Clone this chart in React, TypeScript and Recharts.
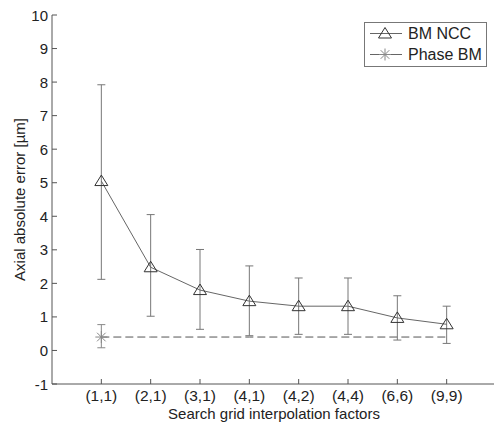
import React from 'react';
import { ComposedChart, Line, XAxis, YAxis, ErrorBar, Legend } from 'recharts';

const categories = ['(1,1)', '(2,1)', '(3,1)', '(4,1)', '(4,2)', '(4,4)', '(6,6)', '(9,9)'];
const nccMean = [5.05, 2.48, 1.8, 1.47, 1.32, 1.32, 0.97, 0.78];
const nccLow = [2.12, 1.02, 0.63, 0.44, 0.48, 0.48, 0.31, 0.21];
const nccHigh = [7.92, 4.05, 3.01, 2.52, 2.16, 2.16, 1.63, 1.32];
const phaseMean = [0.4, 0.4, 0.4, 0.4, 0.4, 0.4, 0.4, 0.4];
const phaseLow = [0.08];
const phaseHigh = [0.77];
const yTicks = [-1, 0, 1, 2, 3, 4, 5, 6, 7, 8, 9, 10];
const xTicks = [1, 2, 3, 4, 5, 6, 7, 8];

const data = categories.map((c, i) => ({
  x: i + 1,
  ncc: nccMean[i],
  nccErr: [nccMean[i] - nccLow[i], nccHigh[i] - nccMean[i]],
  phase: phaseMean[i],
  phaseErr: i < phaseLow.length ? [phaseMean[i] - phaseLow[i], phaseHigh[i] - phaseMean[i]] : undefined,
}));

const FONT = '"Liberation Sans", Arial, sans-serif';
const AXIS = '#555';
const TEXT = '#222';

const Triangle = ({ cx, cy, color = '#333' }: any) => (
  <polygon
    points={`${cx},${cy - 6} ${cx - 6.5},${cy + 4.5} ${cx + 6.5},${cy + 4.5}`}
    fill="none"
    stroke={color}
    strokeWidth={1}
  />
);

const Asterisk = ({ cx, cy, color = '#888' }: any) => (
  <g stroke={color} strokeWidth={1}>
    <line x1={cx - 6} y1={cy} x2={cx + 6} y2={cy} />
    <line x1={cx} y1={cy - 6} x2={cx} y2={cy + 6} />
    <line x1={cx - 4.3} y1={cy - 4.3} x2={cx + 4.3} y2={cy + 4.3} />
    <line x1={cx - 4.3} y1={cy + 4.3} x2={cx + 4.3} y2={cy - 4.3} />
  </g>
);

const LeftTick = (props: any) => {
  const { x, y, payload } = props;
  return (
    <g>
      <line x1={x + 4} y1={y} x2={x + 9} y2={y} stroke={AXIS} />
      <text x={x} y={y} textAnchor="end" dominantBaseline="central" fontFamily={FONT} fontSize={15} fill={TEXT}>
        {payload.value}
      </text>
    </g>
  );
};

const RightTick = (props: any) => {
  const { x, y } = props;
  return <line x1={x - 5} y1={y} x2={x} y2={y} stroke={AXIS} />;
};

const BottomTick = (props: any) => {
  const { x, y, payload } = props;
  return (
    <g>
      <line x1={x} y1={y - 6} x2={x} y2={y - 11} stroke={AXIS} />
      <text x={x} y={y} dy="0.72em" textAnchor="middle" fontFamily={FONT} fontSize={15.5} fill={TEXT}>
        {categories[payload.value - 1]}
      </text>
    </g>
  );
};

const TopTick = (props: any) => {
  const { x, y } = props;
  return <line x1={x} y1={y} x2={x} y2={y + 5} stroke={AXIS} />;
};

const LegendBox = () => (
  <svg width={124} height={46} style={{ display: 'block' }}>
    <rect x={0.5} y={0.5} width={122} height={44} fill="#fff" stroke="#777" />
    <line x1={6} y1={11.5} x2={38} y2={11.5} stroke="#666" />
    <Triangle cx={21} cy={11.5} />
    <text x={44} y={11.5} dominantBaseline="central" fontFamily={FONT} fontSize={16} fill={TEXT}>BM NCC</text>
    <line x1={6} y1={32.5} x2={38} y2={32.5} stroke="#666" />
    <Asterisk cx={21} cy={32.5} />
    <text x={44} y={32.5} dominantBaseline="central" fontFamily={FONT} fontSize={16} fill={TEXT}>Phase BM</text>
  </svg>
);

export default function App() {
  return (
    <div style={{ position: 'absolute', left: 0, top: 0, width: 494, height: 425, overflow: 'hidden', background: '#fff' }}>
      <ComposedChart width={500} height={425} data={data} margin={{ top: 15, right: 4, bottom: 0, left: 0 }}>
        <XAxis
          dataKey="x"
          type="number"
          domain={[0, 9]}
          ticks={xTicks}
          height={41}
          tickSize={0}
          tickMargin={6}
          tickLine={false}
          axisLine={{ stroke: AXIS }}
          tick={<BottomTick />}
          interval={0}
          label={{
            content: (p: any) => {
              const vb = p.viewBox;
              return (
                <text x={vb.x + vb.width / 2} y={vb.y + 29} textAnchor="middle" dominantBaseline="central" fontFamily={FONT} fontSize={15} fill={TEXT}>
                  Search grid interpolation factors
                </text>
              );
            },
          }}
        />
        <XAxis
          xAxisId="top"
          orientation="top"
          dataKey="x"
          type="number"
          domain={[0, 9]}
          ticks={xTicks}
          height={0}
          tickSize={0}
          tickMargin={0}
          tickLine={false}
          axisLine={{ stroke: AXIS }}
          tick={<TopTick />}
          interval={0}
        />
        <YAxis
          type="number"
          domain={[-1, 10]}
          ticks={yTicks}
          width={52}
          tickSize={0}
          tickMargin={4}
          tickLine={false}
          axisLine={{ stroke: AXIS }}
          tick={<LeftTick />}
          interval={0}
          label={{
            content: (p: any) => {
              const vb = p.viewBox;
              const cx = vb.x + 19;
              const cy = vb.y + vb.height / 2;
              return (
                <text x={cx} y={cy} transform={`rotate(-90 ${cx} ${cy})`} textAnchor="middle" dominantBaseline="central" fontFamily={FONT} fontSize={15} fill={TEXT}>
                  Axial absolute error [µm]
                </text>
              );
            },
          }}
        />
        <YAxis
          yAxisId="right"
          orientation="right"
          type="number"
          domain={[-1, 10]}
          ticks={yTicks}
          width={0}
          tickSize={0}
          tickMargin={0}
          tickLine={false}
          axisLine={{ stroke: AXIS }}
          tick={<RightTick />}
          interval={0}
        />
        <Legend
          layout="vertical"
          align="center"
          verticalAlign="middle"
          content={() => <LegendBox />}
          wrapperStyle={{ position: 'absolute', left: 364, top: 22, width: 124, height: 46 }}
        />
        <Line
          dataKey="phase"
          stroke="#555"
          strokeWidth={1}
          strokeDasharray="8 4"
          isAnimationActive={false}
          legendType="none"
          dot={(p: any) =>
            p.index === 0 ? <Asterisk key={`ph-${p.index}`} cx={p.cx} cy={p.cy} /> : <g key={`ph-${p.index}`} />
          }
          activeDot={false}
        >
          <ErrorBar dataKey="phaseErr" width={4} stroke="#888" strokeWidth={1} direction="y" isAnimationActive={false} />
        </Line>
        <Line
          dataKey="ncc"
          stroke="#666"
          strokeWidth={1}
          isAnimationActive={false}
          legendType="none"
          dot={(p: any) => <Triangle key={`nc-${p.index}`} cx={p.cx} cy={p.cy} />}
          activeDot={false}
        >
          <ErrorBar dataKey="nccErr" width={4} stroke="#777" strokeWidth={1} direction="y" isAnimationActive={false} />
        </Line>
      </ComposedChart>
    </div>
  );
}
